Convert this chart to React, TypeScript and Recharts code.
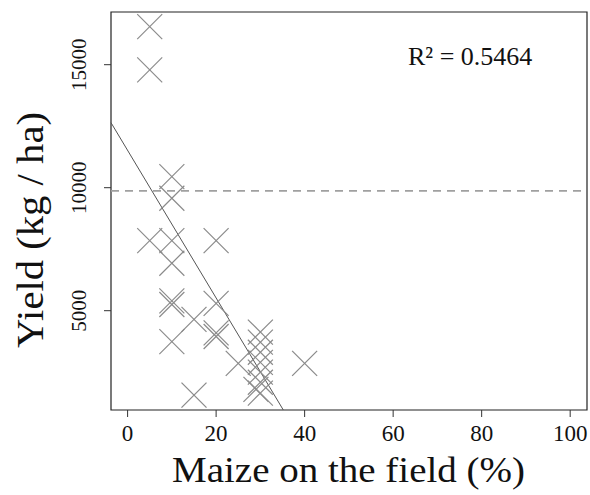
import React from "react";
import {
  ComposedChart,
  Scatter,
  XAxis,
  YAxis,
  ReferenceLine,
  ReferenceArea,
  Label,
} from "recharts";

// ---- data ----
const maizePct = [5, 5, 10, 10, 5, 10, 20, 10, 10, 10, 15, 20, 20, 20, 10, 25, 15, 40, 30, 30, 30, 30, 30, 30, 29, 30];
const yieldKgHa = [16550, 14790, 10450, 9570, 7850, 7850, 7850, 6930, 5400, 5250, 4650, 5300, 4100, 3950, 3740, 2860, 1570, 2860, 4130, 3720, 3310, 2900, 2500, 2090, 1800, 1650];

const xTicks = [0, 20, 40, 60, 80, 100];
const yTicks = [5000, 10000, 15000];
const xDomain: [number, number] = [-3.75, 103.8];
const yDomain: [number, number] = [963, 17142];

const meanYield = 9870;
const regIntercept = 11518;
const regSlope = -300;
const r2Text = "R² = 0.5464";
const xTitle = "Maize on the field (%)";
const yTitle = "Yield (kg / ha)";

const points = maizePct.map((x, i) => ({ x, y: yieldKgHa[i] }));

// regression segment clipped to the plot domain
const regStart = { x: xDomain[0], y: regIntercept + regSlope * xDomain[0] };
const regEndX = (yDomain[0] - regIntercept) / regSlope;
const regEnd = { x: regEndX, y: yDomain[0] };

const FONT = "'Liberation Serif', 'Times New Roman', serif";

const Cross = (props: any) => {
  const { cx, cy } = props;
  const s = 12.5;
  return (
    <g stroke="#8a8a8a" strokeWidth={1.2}>
      <line x1={cx - s} y1={cy - s} x2={cx + s} y2={cy + s} />
      <line x1={cx - s} y1={cy + s} x2={cx + s} y2={cy - s} />
    </g>
  );
};

const XTick = (props: any) => (
  <text x={props.x} y={441} textAnchor="middle" fontFamily={FONT} fontSize={23} fill="#111">
    {props.payload.value}
  </text>
);

const YTick = (props: any) => (
  <text
    x={86}
    y={props.y}
    textAnchor="middle"
    fontFamily={FONT}
    fontSize={21}
    fill="#111"
    transform={`rotate(-90, 86, ${props.y})`}
  >
    {props.payload.value}
  </text>
);

export default function App() {
  return (
    <div style={{ position: "absolute", left: 0, top: 0, width: 590, height: 495, background: "#fff" }}>
      <ComposedChart
        width={590}
        height={495}
        data={points}
        margin={{ top: 12, right: 3, bottom: 0, left: 0 }}
      >
        <XAxis
          type="number"
          dataKey="x"
          domain={xDomain}
          ticks={xTicks}
          allowDataOverflow
          height={85}
          axisLine={false}
          tickSize={7}
          tickLine={{ stroke: "#333" }}
          tick={<XTick />}
        >
          <Label
            content={() => (
              <text
                x={348.5}
                y={482}
                textAnchor="middle"
                fontFamily={FONT}
                fontSize={36}
                fill="#111"
                textLength={353}
                lengthAdjust="spacingAndGlyphs"
              >
                {xTitle}
              </text>
            )}
          />
        </XAxis>
        <YAxis
          type="number"
          dataKey="y"
          domain={yDomain}
          ticks={yTicks}
          allowDataOverflow
          width={111}
          axisLine={false}
          tickSize={7}
          tickLine={{ stroke: "#333" }}
          tick={<YTick />}
        >
          <Label
            content={() => (
              <text
                x={43}
                y={230}
                textAnchor="middle"
                fontFamily={FONT}
                fontSize={38}
                fill="#111"
                textLength={236}
                lengthAdjust="spacingAndGlyphs"
                transform="rotate(-90, 43, 230)"
              >
                {yTitle}
              </text>
            )}
          />
        </YAxis>
        <ReferenceArea
          x1={xDomain[0]}
          x2={xDomain[1]}
          y1={yDomain[0]}
          y2={yDomain[1]}
          fill="none"
          stroke="#222"
          strokeWidth={1.2}
          ifOverflow="visible"
        />
        <ReferenceLine
          y={meanYield}
          stroke="#a0a0a0"
          strokeWidth={1.6}
          strokeDasharray="8 6"
        />
        <ReferenceLine
          segment={[regStart, regEnd]}
          stroke="#555"
          strokeWidth={1}
          ifOverflow="visible"
        />
        <Scatter dataKey="y" shape={<Cross />} isAnimationActive={false} />
        <text x={408} y={65} fontFamily={FONT} fontSize={26} fill="#111">
          {r2Text}
        </text>
      </ComposedChart>
    </div>
  );
}
